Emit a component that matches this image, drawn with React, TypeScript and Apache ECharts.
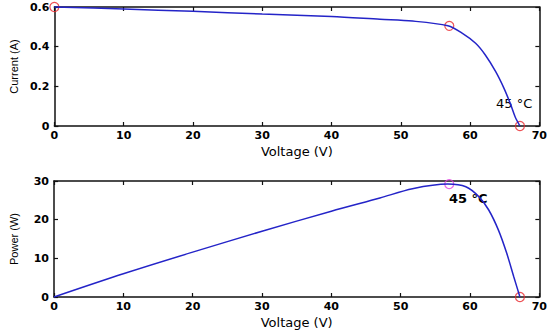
import React, { useEffect, useRef } from "react";
import * as echarts from "echarts";

// I-V curve
const ivVoltage = [0, 10, 20, 30, 40, 47, 51.7, 56.8, 58.9, 60.8, 62.2, 63.7, 64.9, 65.8, 66.5, 67.2];
const ivCurrent = [0.6, 0.59, 0.578, 0.565, 0.552, 0.538, 0.529, 0.505, 0.467, 0.417, 0.358, 0.274, 0.19, 0.114, 0.047, 0];

// P-V curve
const pvVoltage = [0, 10, 20, 30, 40, 47, 51.7, 56.8, 59.4, 61.3, 62.7, 64.1, 65.3, 66.3, 67.2];
const pvPower = [0, 6.0, 11.6, 17.0, 22.2, 25.6, 28.0, 29.2, 28.5, 25.9, 22.5, 17.3, 11.3, 5.3, 0];

// marked points
const ivMarkV = [0, 57, 67.2];
const ivMarkI = [0.6, 0.505, 0];
const pvMpV = [57];
const pvMpP = [29.2];
const pvOcV = [67.2];
const pvOcP = [0];

const tempLabel = "45 °C";
const xName = "Voltage (V)";
const yNameTop = "Current (A)";
const yNameBottom = "Power (W)";

const zip = (a: number[], b: number[]) => a.map((v, i) => [v, b[i]]);

export default function App() {
  const ref = useRef<HTMLDivElement>(null);
  useEffect(() => {
    if (!ref.current) return;
    const chart = echarts.init(ref.current, null, { renderer: "svg" });
    const tickLabel = {
      color: "#000",
      fontFamily: "DejaVu Sans",
      fontWeight: "bold",
      fontSize: 11,
    };
    const frame = "#111";
    const xBase = { type: "value", min: 0, max: 70, interval: 10, splitLine: { show: false } };
    const axLine = () => ({ show: true, onZero: false, lineStyle: { color: frame, width: 1.5 } });
    const axTick = () => ({ show: true, inside: true, length: 4, lineStyle: { color: frame, width: 1.2 } });
    const xPrimary = (g: number) => ({
      ...xBase,
      gridIndex: g,
      position: "bottom",
      axisLine: axLine(),
      axisTick: axTick(),
      axisLabel: { ...tickLabel, margin: 4 },
      name: xName,
      nameLocation: "middle",
      nameGap: 19,
      nameTextStyle: { color: "#000", fontFamily: "DejaVu Sans", fontSize: 13 },
    });
    const xSecondary = (g: number) => ({
      ...xBase,
      gridIndex: g,
      position: "top",
      axisLine: axLine(),
      axisTick: axTick(),
      axisLabel: { show: false },
    });
    const yPrimary = (g: number, max: number, interval: number, name: string) => ({
      type: "value",
      gridIndex: g,
      position: "left",
      min: 0,
      max,
      interval,
      splitLine: { show: false },
      axisLine: axLine(),
      axisTick: axTick(),
      axisLabel: { ...tickLabel, margin: 5 },
      name,
      nameLocation: "middle",
      nameGap: 35,
      nameRotate: 90,
      nameTextStyle: { color: "#000", fontFamily: "Liberation Sans", fontSize: 11 },
    });
    const ySecondary = (g: number, max: number, interval: number) => ({
      type: "value",
      gridIndex: g,
      position: "right",
      min: 0,
      max,
      interval,
      splitLine: { show: false },
      axisLine: axLine(),
      axisTick: axTick(),
      axisLabel: { show: false },
    });
    const circle = (color: string) => ({
      symbol: "circle",
      symbolSize: 9,
      itemStyle: { color: "rgba(0,0,0,0)", borderColor: color, borderWidth: 1.2 },
    });
    chart.setOption({
      animation: false,
      grid: [
        { left: 52, right: 9, top: 7, height: 119 },
        { left: 52, right: 9, top: 181, height: 116 },
      ],
      xAxis: [xPrimary(0), xSecondary(0), xPrimary(1), xSecondary(1)],
      yAxis: [yPrimary(0, 0.6, 0.2, yNameTop), ySecondary(0, 0.6, 0.2), yPrimary(1, 30, 10, yNameBottom), ySecondary(1, 30, 10)],
      series: [
        {
          type: "line",
          xAxisIndex: 0,
          yAxisIndex: 0,
          data: zip(ivVoltage, ivCurrent),
          smooth: 0.3,
          showSymbol: false,
          lineStyle: { color: "#2424c8", width: 1.5 },
          clip: false,
        },
        {
          type: "scatter",
          xAxisIndex: 0,
          yAxisIndex: 0,
          data: zip(ivMarkV, ivMarkI),
          clip: false,
          ...circle("#e8262b"),
        },
        {
          type: "line",
          xAxisIndex: 2,
          yAxisIndex: 2,
          data: zip(pvVoltage, pvPower),
          smooth: 0.3,
          showSymbol: false,
          lineStyle: { color: "#2424c8", width: 1.5 },
          clip: false,
        },
        {
          type: "scatter",
          xAxisIndex: 2,
          yAxisIndex: 2,
          data: zip(pvMpV, pvMpP),
          clip: false,
          ...circle("#e040e0"),
        },
        {
          type: "scatter",
          xAxisIndex: 2,
          yAxisIndex: 2,
          data: zip(pvOcV, pvOcP),
          clip: false,
          ...circle("#e8262b"),
        },
      ],
      graphic: [
        {
          type: "text",
          left: 496,
          top: 97,
          style: { text: tempLabel, fill: "#000", font: "13px 'DejaVu Sans'" },
        },
        {
          type: "text",
          left: 449,
          top: 192,
          style: { text: tempLabel, fill: "#000", font: "bold 13px 'DejaVu Sans'" },
        },
      ],
    });
    return () => chart.dispose();
  }, []);
  return (
    <div
      ref={ref}
      style={{ position: "fixed", left: 0, top: 0, width: 550, height: 334, background: "#fff" }}
    />
  );
}
